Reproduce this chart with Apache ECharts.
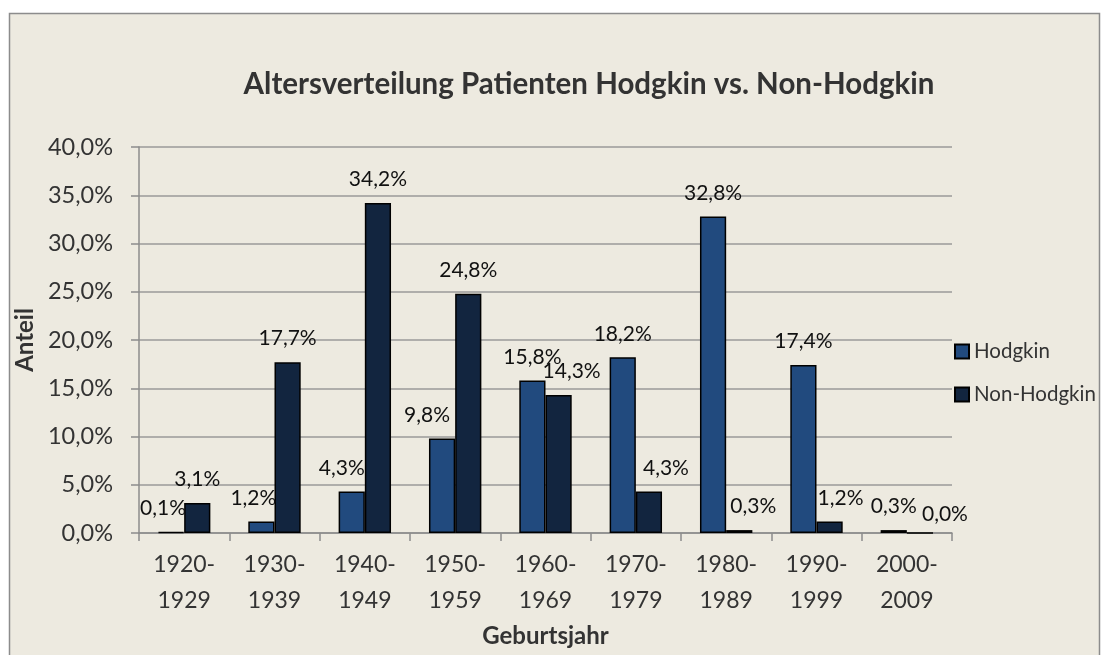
<!DOCTYPE html>
<html>
<head>
<meta charset="utf-8">
<script src="https://cdn.jsdelivr.net/npm/echarts@6/dist/echarts.min.js"></script>
<style>
  html, body { margin: 0; padding: 0; background: #fff; }
  #chart { width: 1109px; height: 655px; }
</style>
</head>
<body>
<div id="chart"></div>
<script>
const categories = ['1920-\n1929', '1930-\n1939', '1940-\n1949', '1950-\n1959', '1960-\n1969',
                    '1970-\n1979', '1980-\n1989', '1990-\n1999', '2000-\n2009'];
const hodgkin = [0.1, 1.2, 4.3, 9.8, 15.8, 18.2, 32.8, 17.4, 0.3];
const nonHodgkin = [3.1, 17.7, 34.2, 24.8, 14.3, 4.3, 0.3, 1.2, 0.0];

// Excel schiebt überlappende Beschriftungen seitlich weg (px)
const hodgkinLabelShift = [-8, -8, -10, -15, 0, 0, 0, 0, 0];
const nonHodgkinLabelShift = [0, 0, 0, 0, 13, 17, 14, 11, 25];

const fontFam = 'Lato, "Open Sans", sans-serif';
const pct = v => v.toFixed(1).replace('.', ',') + '%';

const chart = echarts.init(document.getElementById('chart'));

// Datenbeschriftung über den Balken
const label = {
    show: true,
    position: 'top',
    distance: 13,
    color: '#111',
    fontSize: 21,
    fontFamily: fontFam,
    formatter: p => pct(p.value)
};

function withShift(values, shift) {
    return values.map((v, i) => ({
        value: v,
        label: { offset: [shift[i], v === 0 ? 5 : 0] }
    }));
}

const option = {
    backgroundColor: '#fff',
    animation: false,
    graphic: [
        {
            type: 'rect',
            z: -10,
            shape: { x: 9.5, y: 13.5, width: 1090, height: 680 },
            style: { fill: '#EDEAE0', stroke: '#8C8C8C', lineWidth: 1.5 }
        }
    ],
    title: {
        text: 'Altersverteilung Patienten Hodgkin vs. Non-Hodgkin',
        left: 584,
        top: 64,
        textAlign: 'center',
        textStyle: { fontFamily: fontFam, fontSize: 29.5, fontWeight: 'bold', color: '#333' }
    },
    legend: {
        orient: 'vertical',
        left: 949,
        top: 336,
        itemWidth: 14,
        itemHeight: 14,
        itemGap: 22,
        icon: 'rect',
        textStyle: { fontFamily: fontFam, fontSize: 20.5, color: '#333' },
        data: ['Hodgkin', 'Non-Hodgkin']
    },
    grid: { left: 139, right: 157, top: 147, bottom: 122 },
    xAxis: {
        type: 'category',
        data: categories,
        name: 'Geburtsjahr',
        nameLocation: 'middle',
        nameGap: 86,
        nameTextStyle: { fontFamily: fontFam, fontSize: 24, fontWeight: 'bold', color: '#333' },
        axisLine: { lineStyle: { color: '#8C8C8C', width: 1.5 } },
        axisTick: { show: true, length: 8, lineStyle: { color: '#8C8C8C', width: 1.5 } },
        axisLabel: { fontFamily: fontFam, fontSize: 23, color: '#333', lineHeight: 36, margin: 14 }
    },
    yAxis: {
        type: 'value',
        min: 0,
        max: 40,
        interval: 5,
        name: 'Anteil',
        nameLocation: 'middle',
        nameGap: 94,
        nameTextStyle: { fontFamily: fontFam, fontSize: 24, fontWeight: 'bold', color: '#333' },
        axisLine: { show: true, lineStyle: { color: '#8C8C8C', width: 1.5 } },
        axisTick: { show: true, length: 8, lineStyle: { color: '#8C8C8C', width: 1.5 } },
        splitLine: { lineStyle: { color: '#9A9A9A', width: 1.5 } },
        axisLabel: { fontFamily: fontFam, fontSize: 23.5, color: '#333', margin: 26, formatter: v => pct(v) }
    },
    series: [
        {
            name: 'Hodgkin',
            type: 'bar',
            data: withShift(hodgkin, hodgkinLabelShift),
            barGap: '0%',
            barCategoryGap: '42%',
            itemStyle: { color: '#214A7E', borderColor: '#000', borderWidth: 1.5 },
            label: label
        },
        {
            name: 'Non-Hodgkin',
            type: 'bar',
            data: withShift(nonHodgkin, nonHodgkinLabelShift),
            barGap: '0%',
            barCategoryGap: '42%',
            itemStyle: { color: '#12253F', borderColor: '#000', borderWidth: 1.5 },
            label: label
        }
    ]
};

chart.setOption(option);
</script>
</body>
</html>
